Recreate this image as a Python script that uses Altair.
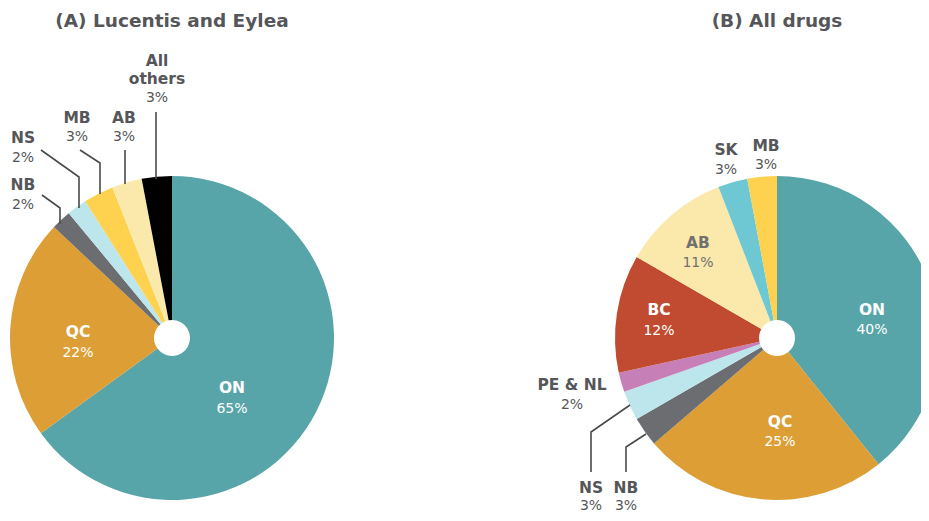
import altair as alt
import pandas as pd

# ---- data ----
cats_a = ["ON", "QC", "NB", "NS", "MB", "AB", "All others"]
vals_a = [65, 22, 2, 2, 3, 3, 3]
cats_b = ["ON", "QC", "NB", "NS", "PE & NL", "BC", "AB", "SK", "MB"]
vals_b = [40, 25, 3, 3, 2, 12, 11, 3, 3]

color_domain = ["ON", "QC", "NB", "NS", "MB", "AB", "All others", "PE & NL", "BC", "SK"]
color_range = ["#58a5a9", "#dc9e35", "#6b6d71", "#bde5ec", "#fed24e", "#fbe8ab",
               "#000000", "#c77fb8", "#c04b30", "#6dc8d4"]

OFF = 8  # page margin
CX_A, CX_B, CY = 172 - OFF, 777 - OFF, 338 - OFF
R, R_IN = 162, 18

df_a = pd.DataFrame({"cat": cats_a, "value": vals_a, "i": range(len(cats_a))})
df_b = pd.DataFrame({"cat": cats_b, "value": vals_b, "i": range(len(cats_b))})

FONT = "DejaVu Sans"
DARK = "#555659"

def pie(df, cx):
    return alt.Chart(df).mark_arc(radius=R, innerRadius=R_IN, stroke=None).encode(
        theta=alt.Theta("value:Q", stack="normalize"),
        color=alt.Color("cat:N", scale=alt.Scale(domain=color_domain, range=color_range), legend=None),
        order=alt.Order("i:Q"),
        x=alt.value(cx),
        y=alt.value(CY),
    )

# ---- layout of labels (page coordinates) ----
labels = [
    ("(A) Lucentis and Eylea", 172, 21, "title", DARK),
    ("(B) All drugs", 777, 21, "title", DARK),
    # pie A
    ("All", 157, 61, "b", DARK), ("others", 157, 79, "b", DARK), ("3%", 157, 98, "r", DARK),
    ("AB", 124, 118, "b", DARK), ("3%", 124, 137, "r", DARK),
    ("MB", 77, 118, "b", DARK), ("3%", 77, 137, "r", DARK),
    ("NS", 23, 138, "b", DARK), ("2%", 23, 158, "r", DARK),
    ("NB", 23, 185, "b", DARK), ("2%", 23, 205, "r", DARK),
    ("QC", 78, 332, "b", "#ffffff"), ("22%", 78, 353, "r", "#ffffff"),
    ("ON", 232, 388, "b", "#ffffff"), ("65%", 232, 409, "r", "#ffffff"),
    # pie B
    ("SK", 726, 150, "b", DARK), ("3%", 726, 170, "r", DARK),
    ("MB", 766, 146, "b", DARK), ("3%", 766, 165, "r", DARK),
    ("AB", 698, 243, "b", "#707070"), ("11%", 698, 263, "r", "#707070"),
    ("BC", 659, 310, "b", "#ffffff"), ("12%", 659, 331, "r", "#ffffff"),
    ("ON", 872, 310, "b", "#ffffff"), ("40%", 872, 330, "r", "#ffffff"),
    ("QC", 780, 422, "b", "#ffffff"), ("25%", 780, 442, "r", "#ffffff"),
    ("PE & NL", 572, 385, "b", DARK), ("2%", 572, 405, "r", DARK),
    ("NS", 591, 488, "b", DARK), ("3%", 591, 506, "r", DARK),
    ("NB", 626, 488, "b", DARK), ("3%", 626, 506, "r", DARK),
]
lab = pd.DataFrame(labels, columns=["text", "px", "py", "kind", "col"])
lab["px"] -= OFF
lab["py"] -= OFF

leaders = [
    ("others", 156, 112), ("others", 156, 179),
    ("ab", 125, 150), ("ab", 125, 184),
    ("mb", 80, 150), ("mb", 100, 163), ("mb", 100, 194),
    ("ns", 41, 150), ("ns", 79, 177), ("ns", 79, 208),
    ("nb", 42, 195), ("nb", 60, 208), ("nb", 60, 224),
    ("nsb", 591, 472), ("nsb", 591, 432), ("nsb", 630, 405),
    ("nbb", 626, 472), ("nbb", 626, 447), ("nbb", 646, 434),
]
ld = pd.DataFrame(leaders, columns=["g", "px", "py"])
ld["px"] -= OFF
ld["py"] -= OFF
ld["o"] = range(len(ld))

lines = alt.Chart(ld).mark_line(color="#4a4a4d", strokeWidth=1.6).encode(
    x=alt.X("px:Q", scale=None, axis=None),
    y=alt.Y("py:Q", scale=None, axis=None),
    detail="g:N",
    order="o:Q",
)

def text_layer(kind, size, weight):
    return alt.Chart(lab[lab["kind"] == kind]).mark_text(
        font=FONT, fontSize=size, fontWeight=weight, baseline="middle", align="center"
    ).encode(
        x=alt.X("px:Q", scale=None, axis=None),
        y=alt.Y("py:Q", scale=None, axis=None),
        text="text:N",
        color=alt.Color("col:N", scale=None),
    )

chart = alt.layer(
    pie(df_a, CX_A),
    pie(df_b, CX_B),
    lines,
    text_layer("title", 18.5, "bold"),
    text_layer("b", 15.5, "bold"),
    text_layer("r", 14, "normal"),
).resolve_scale(theta="independent", color="shared").properties(
    width=913, height=505, padding=0, autosize=alt.AutoSizeParams(type="none")
).configure_view(stroke=None)

chart.save("out.html", embed_options={"renderer": "svg", "actions": False})
